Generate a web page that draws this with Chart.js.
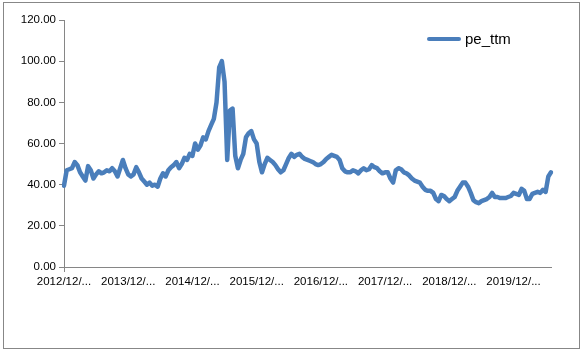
<!DOCTYPE html>
<html>
<head>
<meta charset="utf-8">
<title>pe_ttm</title>
<script src="https://cdn.jsdelivr.net/npm/chart.js@4.4.0/dist/chart.umd.min.js"></script>
<style>
  html, body { margin: 0; padding: 0; background: #fff; }
  #wrap { position: relative; width: 585px; height: 352px; }
  #frame { position: absolute; left: 3px; top: 2px; width: 575px; height: 345px; border: 1px solid #878787; }
  #chart { position: absolute; left: 0; top: 0; }
</style>
</head>
<body>
<div id="wrap">
  <div id="frame"></div>
  <canvas id="chart" width="585" height="352"></canvas>
</div>
<script>
// half-monthly readings, starting 2012/12
const startYear = 2012;
const startMonth = 12;

const peTtm = [
  39.5, 47, 47.5, 48, 51, 49.5, 46, 44, 42, 49, 47, 43,
  45, 46.5, 45.5, 46, 47, 46.5, 48, 46.5, 44, 48, 52, 48,
  45, 44, 45, 48.5, 46, 43, 41.5, 40, 41, 39.5, 40, 39,
  43, 45.5, 44, 47, 48.5, 49.5, 51, 48, 50, 53, 52, 55,
  54, 60, 57, 59, 63, 62, 66, 69, 72, 80, 97, 100,
  90, 52, 76, 77, 54, 48, 52, 55, 63, 65, 66, 62,
  60, 51, 46, 50, 53, 52, 51, 49.5, 47.5, 46, 47, 50,
  53, 55, 53.5, 54.5, 55, 53.5, 52.5, 52, 51.5, 51, 50, 49.5,
  50, 51, 52.5, 53.5, 54.5, 54, 53.5, 52, 48, 46.5, 46, 46,
  47, 46.5, 45.5, 47, 48, 47, 47.5, 49.5, 48.5, 48, 46.5, 45.5,
  46, 46, 43, 41, 47, 48, 47.5, 46, 45.5, 44.5, 43, 42,
  41.5, 41, 39, 37.5, 37, 37, 36, 33, 32, 35, 34.5, 33,
  32, 33, 34, 37, 39, 41, 41, 39, 36, 32.5, 31.5, 31,
  32, 32.5, 33, 34, 36, 34, 34, 33.5, 33.5, 33.5, 34, 34.5,
  36, 35.5, 35, 38, 37, 33, 33, 35.5, 36, 36.5, 36, 37.5,
  36.5, 44, 46
];

const yearTicks = [
  "2012/12/...", "2013/12/...", "2014/12/...", "2015/12/...",
  "2016/12/...", "2017/12/...", "2018/12/...", "2019/12/..."
];

const labels = [];
for (let i = 0; i < peTtm.length; i++) {
  const m = startMonth - 1 + Math.floor(i / 2);
  const y = startYear + Math.floor(m / 12);
  const mm = String(m % 12 + 1).padStart(2, "0");
  labels.push(`${y}/${mm}/${i % 2 ? "16" : "01"}`);
}

const axisColor = "#868686";
const lineColor = "#4a7ebb";
const tickFont = { family: "'Liberation Sans', Arial, sans-serif", size: 11.5 };

// legend sits inside the plot, top right
const insideLegend = {
  id: "insideLegend",
  afterDraw(chart) {
    const { ctx, chartArea } = chart;
    const ds = chart.data.datasets[0];
    const x = chartArea.right - 122;
    const y = chartArea.top + 19;
    ctx.save();
    ctx.strokeStyle = ds.borderColor;
    ctx.lineWidth = 4;
    ctx.lineCap = "round";
    ctx.beginPath();
    ctx.moveTo(x, y);
    ctx.lineTo(x + 30, y);
    ctx.stroke();
    ctx.fillStyle = "#000";
    ctx.font = "15px 'Liberation Sans', Arial, sans-serif";
    ctx.textBaseline = "middle";
    ctx.fillText(ds.label, x + 36, y + 1);
    ctx.restore();
  }
};

new Chart(document.getElementById("chart"), {
  type: "line",
  data: {
    labels,
    datasets: [
      {
        label: "pe_ttm",
        data: peTtm,
        borderColor: lineColor,
        borderWidth: 4.5,
        borderJoinStyle: "round",
        borderCapStyle: "round",
        pointRadius: 0,
        tension: 0,
        fill: false
      }
    ]
  },
  options: {
    responsive: false,
    animation: false,
    layout: { padding: { left: 0, top: 20, right: 34, bottom: 0 } },
    plugins: {
      legend: { display: false },
      tooltip: { enabled: false }
    },
    scales: {
      x: {
        type: "category",
        offset: false,
        afterFit: s => { s.height = 85; },
        border: { color: axisColor, width: 1 },
        grid: {
          drawOnChartArea: false,
          tickLength: 5,
          color: c => (c.index % 24 === 0 ? axisColor : "rgba(0,0,0,0)")
        },
        ticks: {
          autoSkip: false,
          maxRotation: 0,
          minRotation: 0,
          padding: 3,
          color: "#000",
          font: tickFont,
          callback: (v, i) => (i % 24 === 0 ? yearTicks[i / 24] : null)
        }
      },
      y: {
        min: 0,
        max: 120,
        afterFit: s => { s.width = 64; },
        border: { color: axisColor, width: 1 },
        grid: { drawOnChartArea: false, tickLength: 5, color: axisColor },
        ticks: {
          stepSize: 20,
          padding: 3,
          color: "#000",
          font: tickFont,
          callback: v => v.toFixed(2)
        }
      }
    }
  },
  plugins: [insideLegend]
});
</script>
</body>
</html>
